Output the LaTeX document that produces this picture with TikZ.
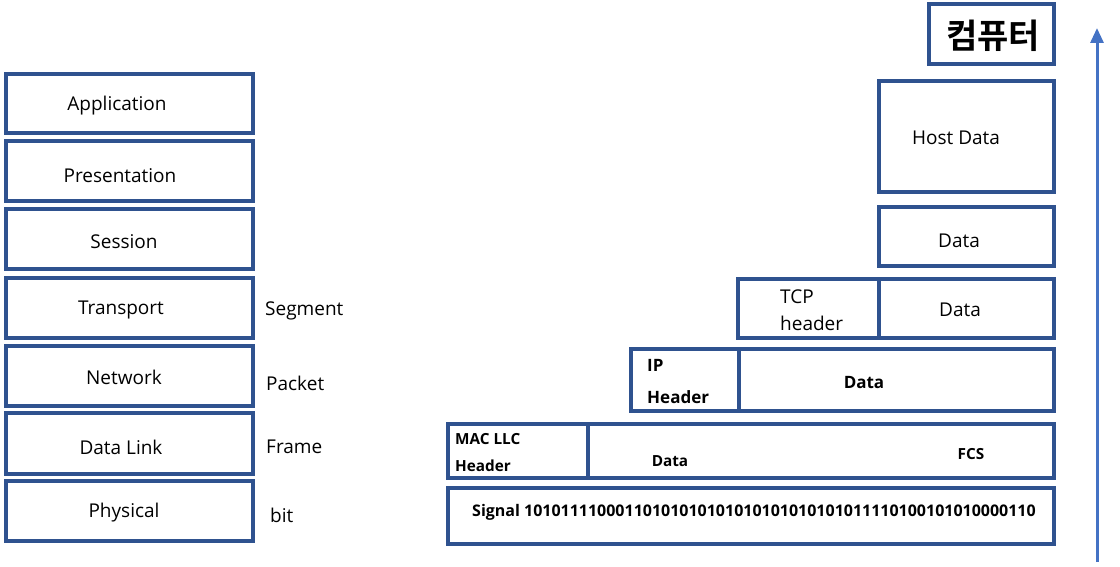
\documentclass[tikz,border=0pt]{standalone}
\usepackage{fontspec}
\setmainfont{Open Sans}
\newfontfamily\kr{Noto Sans CJK KR}[BoldFont={Noto Sans CJK KR Bold}]
\usetikzlibrary{fit,arrows.meta}
\definecolor{frame}{HTML}{2F528F}
\definecolor{arrowblue}{HTML}{4472C4}
\tikzset{
  box/.style={draw=frame, line width=3.1pt, inner sep=0pt, fill=white},
  lbl/.style={inner sep=0pt, font=\fontsize{19}{21}\selectfont},
  lblw/.style={lbl, anchor=west},
  bld/.style={inner sep=0pt, font=\fontsize{17}{19}\selectfont\bfseries},
  bldw/.style={bld, anchor=west},
  sml/.style={inner sep=0pt, font=\fontsize{15.3}{17}\selectfont\bfseries},
  smlw/.style={sml, anchor=west},
}
\begin{document}
\begin{tikzpicture}[x=1pt, y=-1pt]
\useasboundingbox (0,0) rectangle (1120,567);

% OSI layer stack
\node[box, fit={(6,74) (253,133)}] (app) {};
\node[box, fit={(6,141) (253,201)}] (pre) {};
\node[box, fit={(6,209) (253,269)}] (ses) {};
\node[box, fit={(6,278) (253,338)}] (tra) {};
\node[box, fit={(6,346) (253,406)}] (net) {};
\node[box, fit={(6,413) (253,474)}] (dl) {};
\node[box, fit={(6,481) (253,541)}] (phy) {};

\node[lbl] (tapp) at (117,106) {Application};
\node[lbl] (tpre) at (120,176) {Presentation};
\node[lbl] (tses) at (124,242) {Session};
\node[lbl] (ttra) at (121,310) {Transport};
\node[lbl] (tnet) at (124,377) {Network};
\node[lbl] (tdl)  at (121,447) {Data Link};
\node[lbl] (tphy) at (124,513) {Physical};

% PDU names
\node[lblw] (seg) at (265,311) {Segment};
\node[lblw] (pkt) at (266,383) {Packet};
\node[lblw] (frm) at (266,447) {Frame};
\node[lblw] (bit) at (270,515) {bit};

% Encapsulation
\node[box, fit={(929,4) (1054,64)}] (pc) {};
\node[inner sep=0pt, font=\kr\bfseries\fontsize{34}{36}\selectfont] (tpc) at (993,36) {컴퓨터};

\node[box, fit={(879,81) (1054,192)}] (host) {};
\node[lbl] (thost) at (956,138) {Host Data};

\node[box, fit={(879,207) (1054,266)}] (data) {};
\node[lbl] (tdata) at (959,241) {Data};

\node[box, fit={(738,279) (879,338)}] (tcph) {};
\node[box, fit={(879,279) (1054,338)}] (tcpd) {};
\node[lblw] (ttcp1) at (780,297) {TCP};
\node[lblw] (ttcp2) at (780,323) {header};
\node[lbl] (ttcpd) at (960,310) {Data};

\node[box, fit={(631,349) (739,411)}] (iph) {};
\node[box, fit={(739,349) (1054,411)}] (ipd) {};
\node[bldw] (tip1) at (647,365) {IP};
\node[bldw] (tip2) at (647,397) {Header};
\node[bld] (tipd) at (864,383) {Data};

\node[box, fit={(448,424) (588,478)}] (mach) {};
\node[box, fit={(588,424) (1054,478)}] (macd) {};
\node[smlw] (tmac1) at (455,439) {MAC LLC};
\node[smlw] (tmac2) at (455,466) {Header};
\node[sml] (tmacd) at (670,461) {Data};
\node[sml] (tfcs) at (971,454) {FCS};

\node[box, fit={(448,488) (1054,544)}] (sig) {};
\node[smlw, font=\fontsize{16}{18}\selectfont\bfseries] (tsig) at (472,512) {Signal 10101111000110101010101010101010101011110100101010000110};

% Direction arrow
\coordinate (abot) at (1097,562);
\coordinate (atop) at (1097,28);
\draw[arrowblue, line width=3pt, -{Triangle[length=15pt,width=13pt]}] (abot) -- (atop);
\end{tikzpicture}
\end{document}
